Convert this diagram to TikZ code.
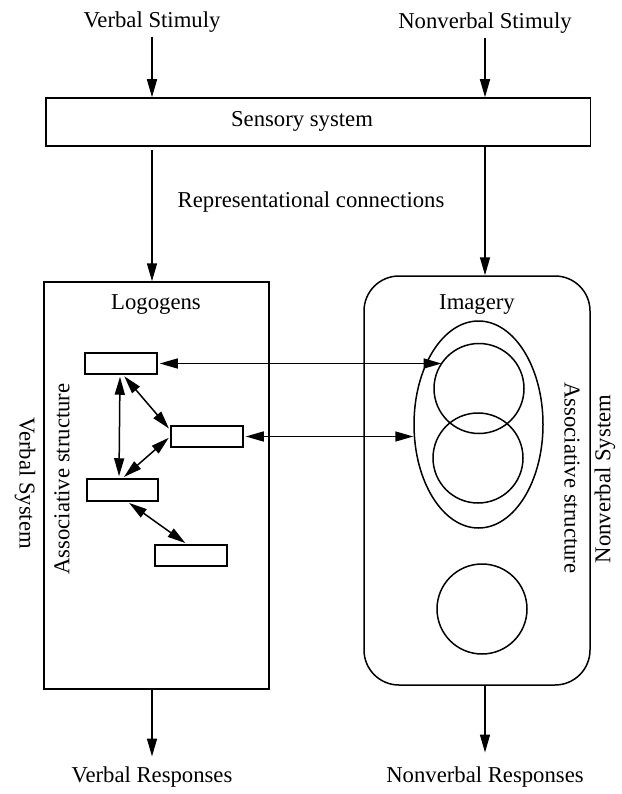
\documentclass[tikz,border=0pt]{standalone}
\usepackage{fontspec}
\setmainfont{Liberation Serif}
\usetikzlibrary{arrows.meta,shapes.geometric}

\tikzset{
  lbl/.style={inner sep=1pt, font=\fontsize{22.7}{27}\selectfont},
  frame/.style={draw, line width=1.5pt, inner sep=0pt},
  wordbox/.style={draw, line width=1.5pt, inner sep=0pt, minimum width=72pt, minimum height=21pt},
  imgcircle/.style={draw, line width=1.5pt, circle, inner sep=0pt, minimum size=90pt},
  flow/.style={line width=1.5pt, -{Triangle[length=18pt,width=10pt]}},
  link/.style={line width=1.5pt, {Triangle[length=18pt,width=10pt]}-{Triangle[length=18pt,width=10pt]}, shorten <=2pt, shorten >=2pt}
}

\begin{document}
\begin{tikzpicture}[x=1pt, y=-1pt]
\useasboundingbox (0,0) rectangle (621,794);

% stimuli and sensory stage
\node[lbl] (vs) at (152,22) {Verbal Stimuly};
\node[lbl] (nvs) at (485,23) {Nonverbal Stimuly};
\node[frame, minimum width=544.5pt, minimum height=48pt] (S) at (318,122) {};
\node[lbl] (stxt) at (302,121) {Sensory system};
\node[lbl] (rc) at (311,202) {Representational connections};

% verbal system
\node[frame, minimum width=225pt, minimum height=407pt] (LB) at (156.5,485.5) {};
\node[lbl] (logo) at (156,305) {Logogens};
\node[wordbox] (A) at (121,363.5) {};
\node[wordbox] (B) at (207,436.5) {};
\node[wordbox, minimum width=71pt, minimum height=22pt] (C) at (122.5,490) {};
\node[wordbox] (D) at (191,555.5) {};
\node[lbl, rotate=90] (asl) at (62,479) {Associative structure};
\node[lbl, rotate=-90] (vsys) at (25,483) {Verbal System};

% nonverbal system
\node[frame, rounded corners=35pt, minimum width=226pt, minimum height=409pt] (RB) at (477,480.5) {};
\node[lbl] (img) at (477,305) {Imagery};
\node[draw, line width=1.5pt, ellipse, inner sep=0pt, minimum width=129pt, minimum height=207pt] (E) at (478.5,424.5) {};
\node[imgcircle] (c1) at (479,388.5) {};
\node[imgcircle] (c2) at (478,458) {};
\node[imgcircle] (c3) at (482,609) {};
\node[lbl, rotate=-90] (asr) at (572,478) {Associative structure};
\node[lbl, rotate=90] (nsys) at (605,479) {Nonverbal System};

% responses
\node[lbl] (vr) at (152,777) {Verbal Responses};
\node[lbl] (nvr) at (485,777) {Nonverbal Responses};

% vertical flow
\draw[flow, shorten <=3pt] (vs.south) -- (vs.south |- S.north);
\draw[flow, shorten <=3pt] (nvs.south) -- (nvs.south |- S.north);
\draw[flow, shorten <=3pt] (vs |- S.south) -- (vs |- LB.north);
\draw[flow] (nvs |- S.south) -- (nvs |- RB.north);
\draw[flow] (vr |- LB.south) -- ([yshift=9pt]vr.north);
\draw[flow] (nvr |- RB.south) -- ([yshift=13pt]nvr.north);

% associative links among logogens
\draw[link] ([xshift=-1pt]A.south) -- ([xshift=-2pt]A.south |- C.north);
\draw[link] ([xshift=2pt]A.south) -- (B.170);
\draw[link] (B.west) -- (C.north);
\draw[link] ([xshift=5pt]C.south) -- ([xshift=-4pt]D.north);

% referential links between the systems
\draw[link, shorten >=0pt] (A.east) -- (A.east -| c1.145);
\draw[link, shorten >=0pt] (B.east) -- (B.east -| E.west);
\end{tikzpicture}
\end{document}
